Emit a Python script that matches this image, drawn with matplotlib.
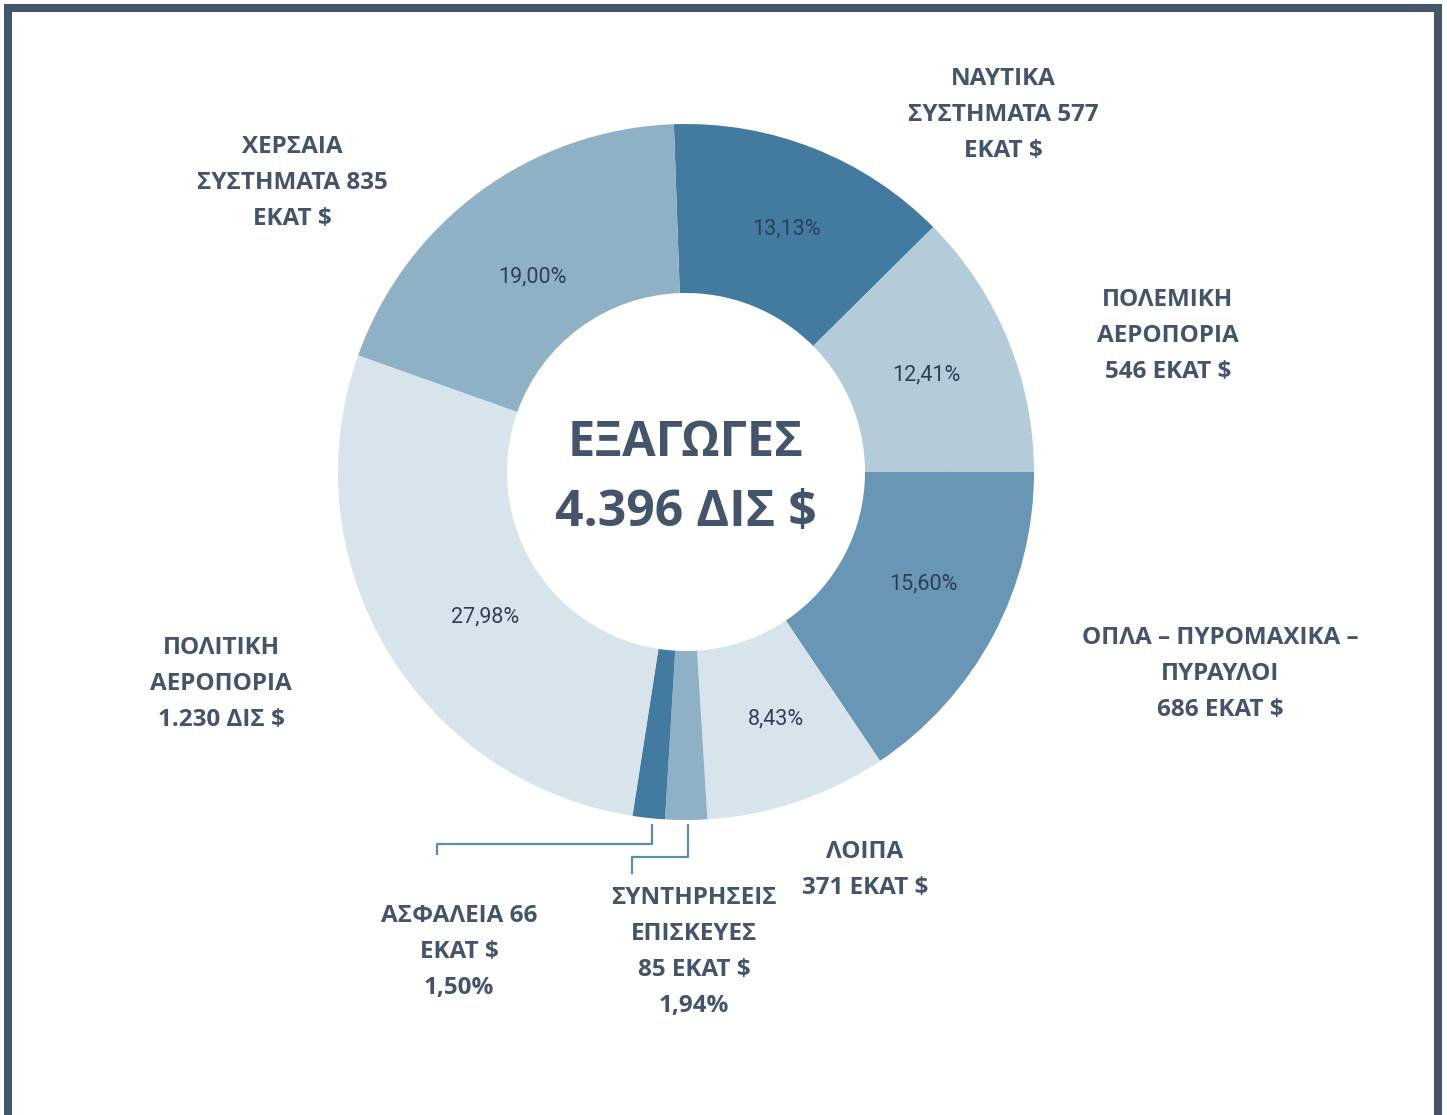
import matplotlib.pyplot as plt
from matplotlib.patches import Rectangle

W, H = 1447, 1115

categories = ["ΝΑΥΤΙΚΑ ΣΥΣΤΗΜΑΤΑ", "ΠΟΛΕΜΙΚΗ ΑΕΡΟΠΟΡΙΑ", "ΟΠΛΑ – ΠΥΡΟΜΑΧΙΚΑ – ΠΥΡΑΥΛΟΙ",
              "ΛΟΙΠΑ", "ΣΥΝΤΗΡΗΣΕΙΣ ΕΠΙΣΚΕΥΕΣ", "ΑΣΦΑΛΕΙΑ", "ΠΟΛΙΤΙΚΗ ΑΕΡΟΠΟΡΙΑ", "ΧΕΡΣΑΙΑ ΣΥΣΤΗΜΑΤΑ"]
shares = [13.13, 12.41, 15.60, 8.43, 1.94, 1.50, 27.98, 19.00]
colors = ["#437a9f", "#b4cbd9", "#6896b4", "#d8e4ec", "#8fb1c6", "#437a9f", "#d8e4ec", "#8fb1c6"]

outer_labels = [
    "ΝΑΥΤΙΚΑ\nΣΥΣΤΗΜΑΤΑ 577\nΕΚΑΤ $",
    "ΠΟΛΕΜΙΚΗ\nΑΕΡΟΠΟΡΙΑ\n546 ΕΚΑΤ $",
    "ΟΠΛΑ – ΠΥΡΟΜΑΧΙΚΑ –\nΠΥΡΑΥΛΟΙ\n686 ΕΚΑΤ $",
    "ΛΟΙΠΑ\n371 ΕΚΑΤ $",
    "ΣΥΝΤΗΡΗΣΕΙΣ\nΕΠΙΣΚΕΥΕΣ\n85 ΕΚΑΤ $\n1,94%",
    "ΑΣΦΑΛΕΙΑ 66\nΕΚΑΤ $\n1,50%",
    "ΠΟΛΙΤΙΚΗ\nΑΕΡΟΠΟΡΙΑ\n1.230 ΔΙΣ $",
    "ΧΕΡΣΑΙΑ\nΣΥΣΤΗΜΑΤΑ 835\nΕΚΑΤ $",
]
# label block centres, image pixels (x, y from top)
outer_pos = [(1003, 115), (1168, 336), (1220, 674), (865, 870),
             (694, 952), (459, 952), (221, 684), (292, 183)]
pct_pos = [(786, 229), (926, 375), (923, 584), (776, 719),
           None, None, (485, 617), (532, 277)]

text_col = "#44546a"
plt.rcParams['font.family'] = ['Open Sans', 'DejaVu Sans']

fig = plt.figure(figsize=(W / 100, H / 100), dpi=100)
ax = fig.add_axes([0, 0, 1, 1])

cx, cy = 686, H - 472
ax.pie(shares, colors=colors, startangle=92, counterclock=False,
       center=(cx, cy), radius=348, wedgeprops=dict(width=169, linewidth=0))

ax.set_xlim(0, W)
ax.set_ylim(0, H)
ax.set_aspect('equal')
ax.axis('off')

for lab, (x, y) in zip(outer_labels, outer_pos):
    ax.text(x, H - y, lab, ha='center', va='center', fontsize=17.5, fontweight='bold',
            color=text_col, linespacing=1.65)

for s, p in zip(shares, pct_pos):
    if p is None:
        continue
    ax.text(p[0], H - p[1], f"{s:.2f}%".replace('.', ','), ha='center', va='center',
            fontsize=15.5, color="#2e3f57", family=['Roboto', 'DejaVu Sans'])

ax.text(cx, H - 443, "ΕΞΑΓΩΓΕΣ", ha='center', va='center', fontsize=35,
        fontweight='bold', color=text_col)
ax.text(cx, H - 513, "4.396 ΔΙΣ $", ha='center', va='center', fontsize=36,
        fontweight='bold', color=text_col)

# leader lines for the two thin slices
lc = "#5b8db0"
ax.plot([652, 652, 437, 437], [H - 825, H - 844, H - 844, H - 854], color=lc, lw=1.6)
ax.plot([688, 688, 632, 632], [H - 825, H - 857, H - 857, H - 873], color=lc, lw=1.6)

# frame
ax.add_patch(Rectangle((8, -3), 1429.5, 1110, fill=False, edgecolor="#44546a",
                       linewidth=5.8, clip_on=False))

fig.savefig("out.png", dpi=100)
